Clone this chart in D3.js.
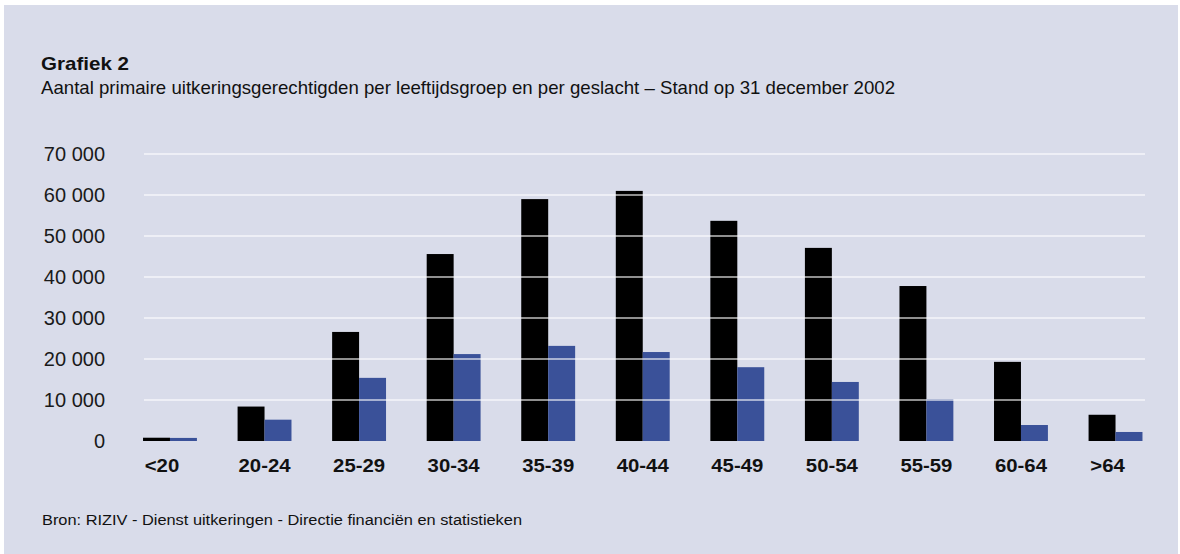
<!DOCTYPE html>
<meta charset="utf-8">
<style>
    body { margin: 0; background: #fff; }
    .grid line { stroke: #fff; stroke-width: 1.6px; opacity: 0.75; }
    .ylab { font-family: "Liberation Sans", Arial, sans-serif; font-size: 20px; fill: #1a1a1a; text-anchor: end; }
    .xlab { font-family: "Liberation Sans", Arial, sans-serif; font-size: 19px; font-weight: bold; fill: #111; text-anchor: middle; }
    .title { font-family: "Liberation Sans", Arial, sans-serif; fill: #111; }
</style>
<body>
<script src="https://cdnjs.cloudflare.com/ajax/libs/d3/7.8.5/d3.min.js"></script>
<script>
    // data
    var categories = ["<20", "20-24", "25-29", "30-34", "35-39", "40-44", "45-49", "50-54", "55-59", "60-64", ">64"];
    var men = [800, 8400, 26600, 45600, 59000, 61000, 53700, 47100, 37800, 19300, 6400];
    var women = [750, 5200, 15400, 21200, 23200, 21700, 18000, 14400, 10200, 3900, 2200];
    var yTicks = [0, 10000, 20000, 30000, 40000, 50000, 60000, 70000];

    var W = 1180, H = 554;
    var svg = d3.select("body").append("svg").attr("width", W).attr("height", H);

    // panel
    svg.append("rect").attr("x", 4).attr("y", 5).attr("width", 1174).attr("height", 549).attr("fill", "#d9dcea");

    // titles (condensed look: squeeze to the measured width)
    svg.append("text").attr("class", "title").attr("x", 41).attr("y", 70)
        .attr("font-size", "19px").attr("font-weight", "bold")
        .attr("textLength", 88).attr("lengthAdjust", "spacingAndGlyphs")
        .text("Grafiek 2");
    svg.append("text").attr("class", "title").attr("x", 41).attr("y", 94)
        .attr("font-size", "19px")
        .attr("textLength", 854).attr("lengthAdjust", "spacingAndGlyphs")
        .text("Aantal primaire uitkeringsgerechtigden per leeftijdsgroep en per geslacht \u2013 Stand op 31 december 2002");

    // scales
    var y = d3.scaleLinear().domain([0, 70000]).range([441, 154]);
    var x = d3.scaleBand().domain(categories).range([122.7, 1162.8]).paddingInner(0.43).paddingOuter(0.215);
    var sub = d3.scaleBand().domain(["m", "v"]).range([0, x.bandwidth()]);

    // bars
    var g = svg.append("g");
    g.selectAll(".m").data(categories).enter().append("rect")
        .attr("x", function(d) { return x(d) + sub("m"); })
        .attr("y", function(d, i) { return y(men[i]); })
        .attr("width", sub.bandwidth())
        .attr("height", function(d, i) { return y(0) - y(men[i]); })
        .attr("fill", "#000");
    g.selectAll(".v").data(categories).enter().append("rect")
        .attr("x", function(d) { return x(d) + sub("v"); })
        .attr("y", function(d, i) { return y(women[i]); })
        .attr("width", sub.bandwidth())
        .attr("height", function(d, i) { return y(0) - y(women[i]); })
        .attr("fill", "#3a5199");

    // gridlines (drawn over the bars, as in the original)
    svg.append("g").attr("class", "grid").selectAll("line").data(yTicks.filter(function(t) { return t > 0; })).enter().append("line")
        .attr("x1", 144).attr("x2", 1145)
        .attr("y1", function(d) { return y(d); }).attr("y2", function(d) { return y(d); });

    // y labels
    var fmt = function(v) { return v === 0 ? "0" : d3.format(",")(v).replace(/,/g, " "); };
    svg.append("g").selectAll("text").data(yTicks).enter().append("text")
        .attr("class", "ylab").attr("x", 105)
        .attr("y", function(d) { return y(d) + 7; })
        .text(fmt);

    // x labels, a little wider than Arial; the short ones sit a bit left in the original
    svg.append("g").selectAll("text").data(categories).enter().append("text")
        .attr("class", "xlab")
        .attr("x", function(d) { return x(d) + x.bandwidth() / 2; })
        .attr("dx", function(d) { return d.length < 4 ? -8 : 0; })
        .attr("y", 472)
        .text(function(d) { return d; })
        .each(function() {
            var w = this.getComputedTextLength();
            d3.select(this).attr("textLength", w * 1.07).attr("lengthAdjust", "spacingAndGlyphs");
        });

    // source
    svg.append("text").attr("class", "title").attr("x", 42).attr("y", 525)
        .attr("font-size", "15.5px")
        .attr("textLength", 480).attr("lengthAdjust", "spacingAndGlyphs")
        .text("Bron: RIZIV - Dienst uitkeringen - Directie financiën en statistieken");
</script>
</body>
